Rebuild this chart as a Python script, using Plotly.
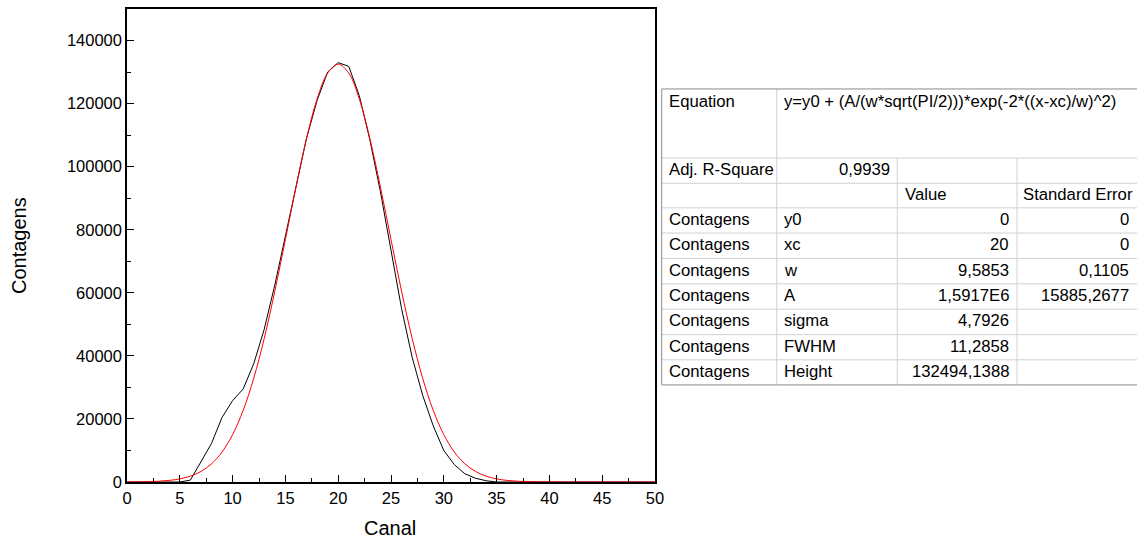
import plotly.graph_objects as go

# ---------------- data ----------------
canal = list(range(0, 51))

contagens_data = [0, 0, 0, 0, 0, 0, 600, 6500, 12200, 20500,
                  25800, 29500, 37500, 48500, 62500, 78000, 94000, 109000, 121000, 130000,
                  133000, 131800, 122500, 108500, 92000, 74000, 55000, 39600, 27500, 17800,
                  10000, 5500, 2600, 1200, 400, 0, 0, 0, 0, 0,
                  0, 0, 0, 0, 0, 0, 0, 0, 0, 0, 0]

contagens_fit = [20, 50, 115, 245, 500, 990, 1860, 3350, 5770, 9510,
                 15030, 22720, 32900, 45600, 60520, 76890, 93530, 108920, 121440, 129650,
                 132494, 129650, 121440, 108920, 93530, 76890, 60520, 45600, 32900, 22720,
                 15030, 9510, 5770, 3350, 1860, 990, 500, 245, 115, 50,
                 20, 0, 0, 0, 0, 0, 0, 0, 0, 0, 0]

x_ticks = [0, 5, 10, 15, 20, 25, 30, 35, 40, 45, 50]
y_ticks = [0, 20000, 40000, 60000, 80000, 100000, 120000, 140000]

equation = "y=y0 + (A/(w*sqrt(PI/2)))*exp(-2*((x-xc)/w)^2)"
adj_r2 = "0,9939"
header_value = "Value"
header_err = "Standard Error"
row_series = ["Contagens"] * 7
row_params = ["y0", "xc", "w", "A", "sigma", "FWHM", "Height"]
row_values = ["0", "20", "9,5853", "1,5917E6", "4,7926", "11,2858", "132494,1388"]
row_errors = ["0", "0", "0,1105", "15885,2677", "", "", ""]

# ---------------- layout geometry (pixels) ----------------
W, H = 1137, 543
L, R, T, B = 127, 655, 7, 482
PW, PH = R - L, B - T

def px(x):
    return (x - L) / PW

def py(y):
    return (B - y) / PH

FONT = "Liberation Sans, Arial, sans-serif"

fig = go.Figure()
fig.add_trace(go.Scatter(x=canal, y=contagens_data, mode="lines",
                         line=dict(color="#000000", width=1), showlegend=False))
fig.add_trace(go.Scatter(x=canal, y=contagens_fit, mode="lines", line_shape="spline",
                         line=dict(color="#ff0000", width=1), showlegend=False))

fig.update_layout(
    width=W, height=H,
    margin=dict(l=L, r=W - R, t=T, b=H - B, pad=0),
    paper_bgcolor="white", plot_bgcolor="white",
    font=dict(family=FONT, color="#000000"),
    showlegend=False,
)
fig.update_xaxes(range=[0, 50], tickvals=x_ticks, ticks="inside", ticklen=7, tickwidth=1.3,
                 tickcolor="#000", showline=True, linecolor="#000", linewidth=1.5, mirror=True,
                 showgrid=False, zeroline=False, tickfont=dict(size=16.5),
                 minor=dict(dtick=2.5, ticks="inside", ticklen=4, tickcolor="#000", tickwidth=1, showgrid=False))
fig.update_yaxes(range=[0, 150000], tickvals=y_ticks, tickformat="d", ticks="inside", ticklen=7,
                 tickwidth=1.3, tickcolor="#000", showline=True, linecolor="#000", linewidth=1.5,
                 mirror=True, showgrid=False, zeroline=False, tickfont=dict(size=16.5),
                 minor=dict(dtick=10000, ticks="inside", ticklen=4, tickcolor="#000", tickwidth=1, showgrid=False))

ann = []
ann.append(dict(x=px(390), y=py(528), xref="paper", yref="paper", text="Canal", showarrow=False,
                font=dict(size=20), xanchor="center", yanchor="middle"))
ann.append(dict(x=px(19), y=py(245), xref="paper", yref="paper", text="Contagens", showarrow=False,
                font=dict(size=20), textangle=-90, xanchor="center", yanchor="middle"))

# ---------------- table ----------------
shapes = []
outer = "#8c8c8c"
inner = "#d0d0d0"
tl, tr = 661.7, 1140
ttop, tbot = 87.3, 384.5
hlines = [156.7, 182, 206.7, 232, 257.5, 283, 308.5, 334, 359.3]
for yv in hlines:
    shapes.append(dict(type="line", xref="paper", yref="paper", x0=px(tl), x1=px(tr), y0=py(yv), y1=py(yv),
                       line=dict(color=inner, width=1)))
shapes.append(dict(type="line", xref="paper", yref="paper", x0=px(776.7), x1=px(776.7), y0=py(ttop), y1=py(tbot),
                   line=dict(color=inner, width=1)))
for xv in [897.3, 1017]:
    shapes.append(dict(type="line", xref="paper", yref="paper", x0=px(xv), x1=px(xv), y0=py(156.7), y1=py(tbot),
                       line=dict(color=inner, width=1)))
for yv in [ttop, tbot]:
    shapes.append(dict(type="line", xref="paper", yref="paper", x0=px(tl), x1=px(tr), y0=py(yv), y1=py(yv),
                       line=dict(color=outer, width=1)))
shapes.append(dict(type="line", xref="paper", yref="paper", x0=px(tl), x1=px(tl), y0=py(ttop), y1=py(tbot),
                   line=dict(color=outer, width=1)))

TS = 16.7

def txt(x, y, s, anchor):
    ann.append(dict(x=px(x), y=py(y), xref="paper", yref="paper", text=s, showarrow=False,
                    font=dict(size=TS), xanchor=anchor, yanchor="middle"))

txt(667, 100, "Equation", "left")
txt(782, 100, equation, "left")
txt(667, 168, "Adj. R-Square", "left")
txt(892, 168, adj_r2, "right")
txt(903, 193, header_value, "left")
txt(1021, 193, header_err, "left")
row_tops = [206.7, 232, 257.5, 283, 308.5, 334, 359.3, 384.5]
for i in range(7):
    yc = (row_tops[i] + row_tops[i + 1]) / 2 - 1
    txt(667, yc, row_series[i], "left")
    txt(782, yc, row_params[i], "left")
    txt(1011, yc, row_values[i], "right")
    if row_errors[i]:
        txt(1131, yc, row_errors[i], "right")

fig.update_layout(annotations=ann, shapes=shapes)
fig.write_html("out.html",
               config={"displayModeBar": False},
               post_script="document.body.style.margin='0px';document.body.style.padding='0px';"
                           "document.body.style.overflow='hidden';")
